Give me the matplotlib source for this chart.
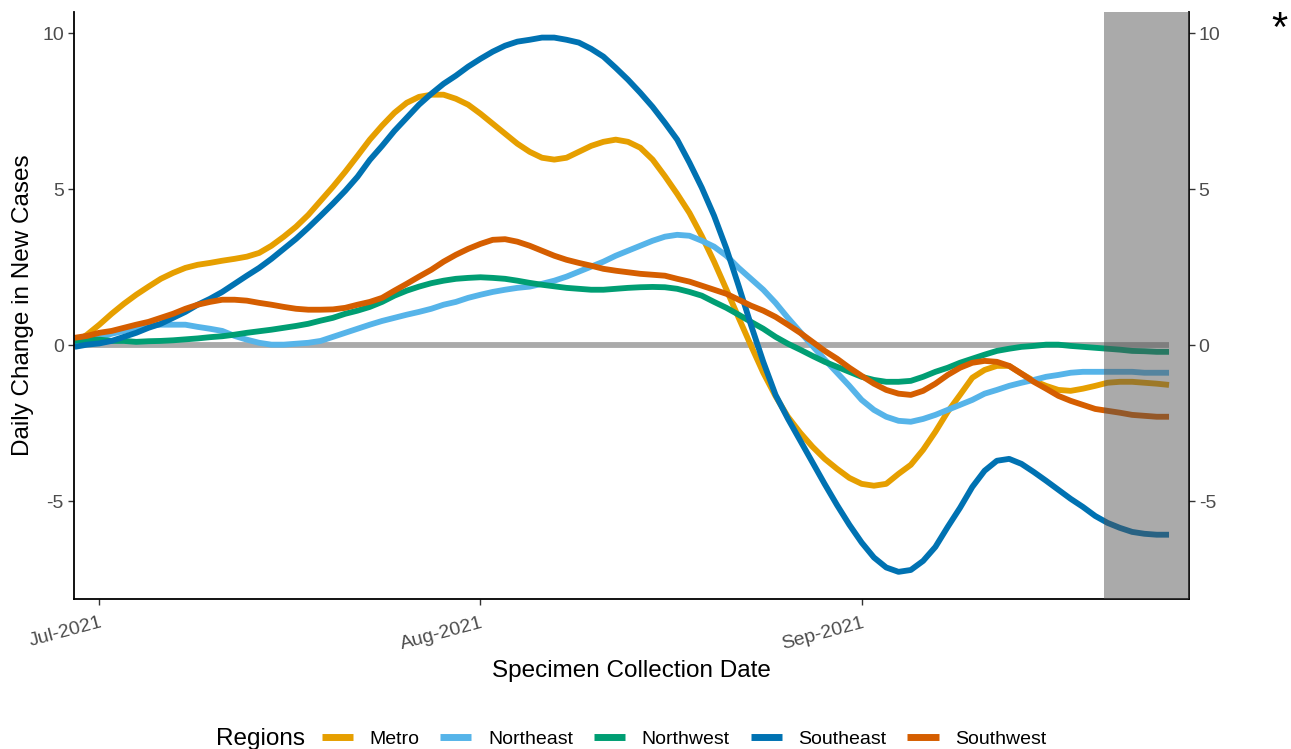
import matplotlib
matplotlib.use('Agg')
import matplotlib.pyplot as plt
import matplotlib.dates as mdates
from matplotlib.lines import Line2D
import pandas as pd

plt.rcParams['font.family'] = ['Liberation Sans', 'DejaVu Sans']

# ---- data (one value per day) ----
dates = pd.date_range('2021-06-29', '2021-09-26', freq='D')

metro = [0.08, 0.34, 0.66, 1.01, 1.33, 1.62, 1.88, 2.13, 2.32, 2.48,
         2.58, 2.64, 2.71, 2.77, 2.84, 2.96, 3.19, 3.48, 3.80, 4.18,
         4.63, 5.08, 5.56, 6.07, 6.59, 7.04, 7.45, 7.77, 7.96, 8.03,
         8.03, 7.90, 7.71, 7.42, 7.10, 6.78, 6.46, 6.20, 6.01, 5.95,
         6.01, 6.20, 6.39, 6.52, 6.59, 6.52, 6.33, 5.95, 5.42, 4.85,
         4.24, 3.50, 2.68, 1.79, 0.88, -0.01, -0.88, -1.63, -2.29, -2.80,
         -3.25, -3.64, -3.96, -4.25, -4.44, -4.50, -4.44, -4.12, -3.83, -3.35,
         -2.77, -2.13, -1.59, -1.04, -0.79, -0.66, -0.66, -0.91, -1.14, -1.30,
         -1.43, -1.46, -1.39, -1.30, -1.20, -1.17, -1.17, -1.20, -1.23, -1.27]

northeast = [-0.02, 0.11, 0.24, 0.37, 0.46, 0.56, 0.62, 0.66, 0.66, 0.66,
             0.59, 0.53, 0.46, 0.30, 0.18, 0.08, 0.02, 0.02, 0.05, 0.08,
             0.14, 0.27, 0.40, 0.53, 0.66, 0.78, 0.88, 0.98, 1.07, 1.17,
             1.30, 1.39, 1.52, 1.62, 1.71, 1.78, 1.84, 1.88, 1.97, 2.07,
             2.20, 2.36, 2.52, 2.68, 2.87, 3.03, 3.19, 3.35, 3.48, 3.54,
             3.51, 3.35, 3.16, 2.87, 2.48, 2.13, 1.78, 1.36, 0.88, 0.43,
             -0.02, -0.46, -0.88, -1.30, -1.75, -2.07, -2.29, -2.42, -2.45, -2.36,
             -2.23, -2.07, -1.91, -1.75, -1.55, -1.43, -1.30, -1.20, -1.11, -1.01,
             -0.95, -0.88, -0.85, -0.85, -0.85, -0.85, -0.85, -0.88, -0.88, -0.88]

northwest = [0.14, 0.18, 0.18, 0.14, 0.14, 0.11, 0.13, 0.14, 0.16, 0.19,
             0.22, 0.26, 0.29, 0.34, 0.40, 0.45, 0.50, 0.56, 0.62, 0.69,
             0.79, 0.88, 1.01, 1.11, 1.23, 1.39, 1.59, 1.75, 1.88, 1.99,
             2.07, 2.13, 2.16, 2.18, 2.16, 2.13, 2.07, 2.00, 1.94, 1.89,
             1.84, 1.81, 1.78, 1.78, 1.81, 1.84, 1.86, 1.87, 1.86, 1.81,
             1.71, 1.59, 1.39, 1.20, 0.98, 0.75, 0.53, 0.27, 0.05, -0.14,
             -0.34, -0.53, -0.69, -0.85, -1.01, -1.11, -1.17, -1.17, -1.14, -1.01,
             -0.85, -0.72, -0.56, -0.43, -0.30, -0.18, -0.11, -0.05, -0.02, 0.02,
             0.02, -0.02, -0.05, -0.08, -0.11, -0.14, -0.18, -0.19, -0.21, -0.21]

southeast = [-0.05, 0.02, 0.06, 0.14, 0.27, 0.40, 0.56, 0.69, 0.88, 1.07,
             1.30, 1.49, 1.71, 1.97, 2.23, 2.48, 2.77, 3.09, 3.41, 3.77,
             4.15, 4.54, 4.95, 5.40, 5.94, 6.39, 6.87, 7.29, 7.71, 8.06,
             8.38, 8.64, 8.93, 9.18, 9.41, 9.60, 9.73, 9.79, 9.86, 9.86,
             9.79, 9.70, 9.50, 9.25, 8.89, 8.51, 8.09, 7.64, 7.13, 6.59,
             5.85, 5.05, 4.15, 3.10, 1.90, 0.65, -0.53, -1.59, -2.35, -3.05,
             -3.75, -4.45, -5.12, -5.75, -6.32, -6.80, -7.12, -7.26, -7.20, -6.91,
             -6.46, -5.82, -5.21, -4.54, -4.02, -3.70, -3.64, -3.80, -4.06, -4.34,
             -4.63, -4.92, -5.18, -5.47, -5.69, -5.85, -5.98, -6.04, -6.07, -6.07]

southwest = [0.24, 0.30, 0.40, 0.46, 0.56, 0.66, 0.75, 0.88, 1.01, 1.17,
             1.30, 1.39, 1.46, 1.46, 1.43, 1.36, 1.30, 1.23, 1.17, 1.14,
             1.14, 1.15, 1.20, 1.30, 1.39, 1.52, 1.75, 1.97, 2.20, 2.42,
             2.68, 2.90, 3.09, 3.25, 3.38, 3.40, 3.32, 3.19, 3.03, 2.87,
             2.74, 2.64, 2.55, 2.45, 2.39, 2.34, 2.29, 2.26, 2.23, 2.13,
             2.04, 1.91, 1.78, 1.65, 1.46, 1.27, 1.11, 0.91, 0.66, 0.40,
             0.11, -0.18, -0.43, -0.72, -0.98, -1.23, -1.43, -1.55, -1.59, -1.46,
             -1.23, -0.95, -0.72, -0.56, -0.50, -0.53, -0.66, -0.91, -1.17, -1.39,
             -1.62, -1.78, -1.91, -2.04, -2.10, -2.16, -2.23, -2.26, -2.29, -2.29]

regions = ['Metro', 'Northeast', 'Northwest', 'Southeast', 'Southwest']
series = [metro, northeast, northwest, southeast, southwest]
colors = ['#E69F00', '#56B4E9', '#009E73', '#0072B2', '#D55E00']

shade_start = pd.Timestamp('2021-09-20 17:00')
x_lo = pd.Timestamp('2021-06-28 22:00')
x_hi = pd.Timestamp('2021-09-27 15:00')

# ---- figure ----
W, H = 1291, 749
fig = plt.figure(figsize=(W / 100, H / 100), dpi=100)
ax = fig.add_axes([73.7 / W, 1 - 599 / H, (1189 - 73.7) / W, (599 - 12) / H])

ax.hlines(0, dates[0], dates[-1], color='#AAAAAA', lw=4.2, zorder=1)
for name, vals, col in zip(regions, series, colors):
    ax.plot(dates, vals, color=col, lw=4.2, solid_capstyle='butt',
            solid_joinstyle='round', zorder=2)

# shaded "incomplete data" window sits on top of the lines
ax.axvspan(shade_start, x_hi, color=(0.32, 0.32, 0.32), alpha=0.49, lw=0, zorder=5)

ax.set_xlim(x_lo, x_hi)
ax.set_ylim(-8.13, 10.68)
ax.set_yticks([-5, 0, 5, 10])
ax.set_yticklabels(['-5', '0', '5', '10'])

ax.xaxis.set_major_locator(mdates.MonthLocator())
ax.xaxis.set_major_formatter(mdates.DateFormatter('%b-%Y'))

for s in ['left', 'bottom', 'right']:
    ax.spines[s].set_linewidth(1.3)
    ax.spines[s].set_color('black')
ax.spines['top'].set_visible(False)

ax.tick_params(axis='both', length=4, width=1, color='#333333',
               labelsize=14, labelcolor='#4D4D4D', pad=3)
ax.tick_params(axis='x', pad=7)
ax.tick_params(axis='y', right=True, labelright=True)
for lab in ax.get_xticklabels():
    lab.set_rotation(15)
    lab.set_ha('right')
    lab.set_va('top')
    lab.set_rotation_mode('anchor')

fig.text(631 / W, 1 - 677 / H, 'Specimen Collection Date', ha='center',
         va='baseline', fontsize=17.5, color='black')
fig.text(23 / W, 1 - 305.5 / H, 'Daily Change in New Cases', ha='center',
         va='center', rotation=90, fontsize=17.5, color='black')
fig.text(1279 / W, 1 - 41 / H, '*', ha='center', va='baseline', fontsize=30,
         color='black')

# legend along the bottom, title on the left
handles = [Line2D([], [], color=c, lw=5, solid_capstyle='butt') for c in colors]
leg = fig.legend(handles, regions, loc='center', ncol=5,
                 bbox_to_anchor=(684 / W, 1 - 739 / H), frameon=False,
                 fontsize=14, handlelength=1.6, handletextpad=0.85,
                 columnspacing=1.08, borderpad=0)
fig.text(216 / W, 1 - 745 / H, 'Regions', ha='left', va='baseline',
         fontsize=17.5, color='black')

fig.savefig('out.png', dpi=100)
